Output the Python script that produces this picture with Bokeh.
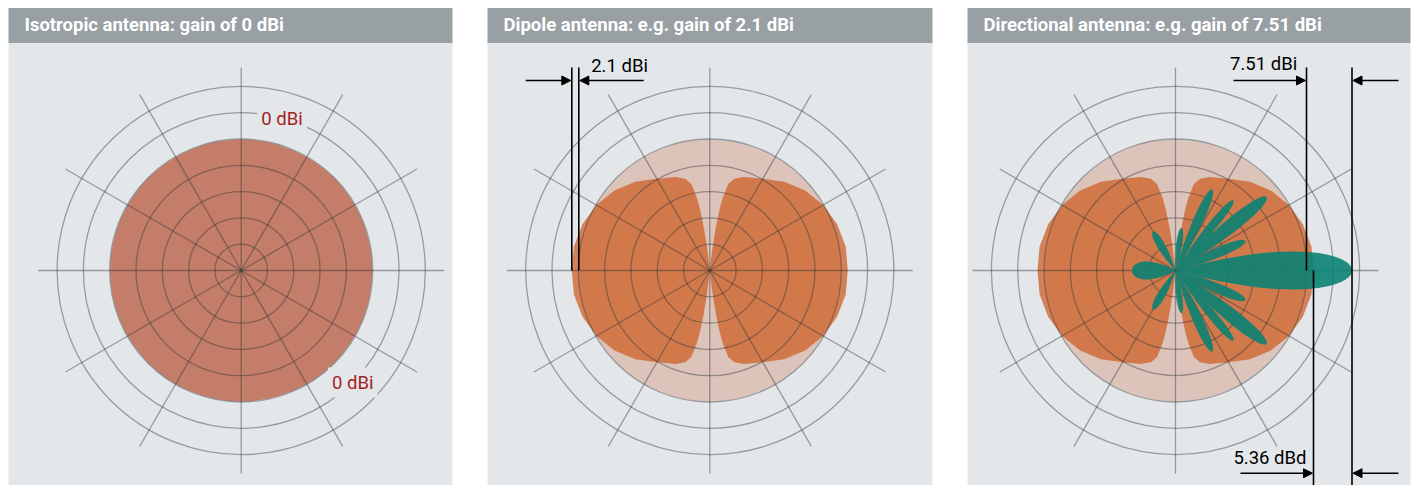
import numpy as np
from bokeh.plotting import figure
from bokeh.models import Range1d, ColumnDataSource, Arrow, NormalHead
from bokeh.core.properties import value
from bokeh.embed import file_html
from bokeh.resources import INLINE

# ---------------- data ----------------
titles = ["Isotropic antenna: gain of 0 dBi",
          "Dipole antenna: e.g. gain of 2.1 dBi",
          "Directional antenna: e.g. gain of 7.51 dBi"]
grid_rings = [1, 2, 3, 4, 5, 6, 7]
spoke_deg = [0, 30, 60, 90, 120, 150, 180, 210, 240, 270, 300, 330]

iso_radius = 131.0                      # 0 dBi pattern radius
iso_label_text = ["0 dBi", "0 dBi"]
iso_label_deg = [75, -45]

# dipole lobe: angle from lobe axis (deg) -> pattern radius
dipole_phi_deg = [0, 10, 20, 30, 40, 50, 60, 70, 75, 78, 80, 81, 82, 83, 84, 90]
dipole_r = [138, 138, 135.5, 131, 124.5, 116, 106, 99.5, 95, 88.5, 73, 61, 45, 26, 9, 0]

# directional pattern lobes (teal)
teal_main = dict(deg=0, length=176.5, half_width=19)
teal_back = dict(deg=180, length=43.5, half_width=9)
teal_side_deg = [22.9, 38.9, 50.5, 65.6, 82, 120]
teal_side_len = [76, 117, 91, 89, 43, 45]
teal_side_hw = [5.0, 7.0, 4.4, 5.0, 3.0, 4.0]

dim_labels = ["2.1 dBi", "7.51 dBi", "5.36 dBd"]

# ---------------- layout / style ----------------
W, H = 1414, 485
panel_left = [8, 487, 967]
panel_right = [452, 932, 1410]
cxs = [240.7, 709.3, 1175.0]
cy = 270.0
ring_step = 26.3
spoke_len = 203.0
hdr_top, hdr_bot = 7.5, 42.5
y_bottom = H
TXT_SHIFT = -6.5   # compensate baseline placement

BG = "#e4e7ea"
HDR = "#98a0a3"
FONT = value("Roboto")

p = figure(width=W, height=H, x_range=Range1d(0, W), y_range=Range1d(H, 0),
           x_axis_location=None, y_axis_location=None, toolbar_location=None,
           output_backend="svg", min_border=0, outline_line_color=None,
           background_fill_color="white", border_fill_color="white")
p.grid.visible = False

# panel backgrounds & headers
p.quad(left=panel_left, right=panel_right, top=[hdr_bot] * 3, bottom=[y_bottom + 10] * 3,
       fill_color=BG, line_color=None)
p.quad(left=panel_left, right=panel_right, top=[hdr_top] * 3, bottom=[hdr_bot] * 3,
       fill_color=HDR, line_color=None)
p.text(x=[l + 16 for l in panel_left], y=[30.5 + TXT_SHIFT] * 3, text=titles, text_font=FONT,
       text_font_size="18.5px", text_font_style="bold", text_color="white",
       text_baseline="alphabetic", text_align="left")


def polar(cx, r, deg):
    a = np.deg2rad(np.asarray(deg, dtype=float))
    r = np.asarray(r, dtype=float)
    return cx + r * np.cos(a), cy - r * np.sin(a)


# ---- panel 1: isotropic ----
p.circle(x=[cxs[0]], y=[cy], radius=iso_radius, fill_color="#c47d68", line_color=None)

# ---- panels 2 & 3: pale 0 dBi circle + dipole lobes ----
phi = np.array(dipole_phi_deg, dtype=float)
rr = np.array(dipole_r, dtype=float)
theta = np.concatenate([-phi[::-1], phi[1:]])
rfull = np.concatenate([rr[::-1], rr[1:]])
for cx in cxs[1:]:
    p.circle(x=[cx], y=[cy], radius=iso_radius, fill_color="#dcc4ba", line_color=None)
    xr, yr = polar(cx, rfull, theta)
    xl, yl = polar(cx, rfull, 180 - theta)
    p.patches(xs=[list(xr), list(xl)], ys=[list(yr), list(yl)],
              fill_color="#d0642d", fill_alpha=0.78, line_color=None)

# ---- grid (rings + spokes) on top ----
GRID = "#2a3338"
for cx in cxs:
    p.circle(x=[cx] * len(grid_rings), y=[cy] * len(grid_rings),
             radius=[k * ring_step for k in grid_rings], fill_color=None,
             line_color=GRID, line_alpha=0.42, line_width=1.3)
    x1, y1 = polar(cx, [spoke_len] * len(spoke_deg), spoke_deg)
    p.segment(x0=[cx] * len(spoke_deg), y0=[cy] * len(spoke_deg), x1=list(x1), y1=list(y1),
              line_color=GRID, line_alpha=0.42, line_width=1.3)

# ---- panel 3: directional pattern (teal petals) ----
def petal(cx, deg, length, hw, n=60):
    s = np.linspace(0, 2 * np.pi, n)
    x = length * (1 - np.cos(s)) / 2
    y = hw / 0.7698 * np.sin(s) * np.abs(np.sin(s / 2))
    a = np.deg2rad(deg)
    X = x * np.cos(a) - y * np.sin(a)
    Y = x * np.sin(a) + y * np.cos(a)
    return list(cx + X), list(cy - Y)


pxs, pys = [], []
for lobe in (teal_main, teal_back):
    a, b = petal(cxs[2], lobe["deg"], lobe["length"], lobe["half_width"])
    pxs.append(a); pys.append(b)
for d, L, hw in zip(teal_side_deg, teal_side_len, teal_side_hw):
    for sgn in (1, -1):
        a, b = petal(cxs[2], sgn * d, L, hw)
        pxs.append(a); pys.append(b)
p.patches(xs=pxs, ys=pys, fill_color="#0a8273", fill_alpha=0.9, line_color=None)

# ---- panel 1 labels ----
lx, ly = polar(cxs[0], [6 * ring_step] * 2, iso_label_deg)
p.text(x=list(lx), y=[v + 7 + TXT_SHIFT for v in ly], text=iso_label_text, text_font=FONT,
       text_font_size="18.5px", text_color="#a31f24", text_align="center",
       text_baseline="alphabetic", background_fill_color=BG, padding=4)

# ---- dimension lines ----
d_max = max(dipole_r)
t_max = teal_main["length"]
c2, c3 = cxs[1], cxs[2]
p.segment(x0=[c2 - d_max, c2 - iso_radius, c3 + iso_radius, c3 + t_max, c3 + d_max],
          y0=[67, 67, 67, 67, cy],
          x1=[c2 - d_max, c2 - iso_radius, c3 + iso_radius, c3 + t_max, c3 + d_max],
          y1=[cy, cy, cy, y_bottom, y_bottom],
          line_color="black", line_width=1.6)

arr = ColumnDataSource(dict(
    xs=[c2 - 7 * ring_step, c2 - 66, c3 + 58, c3 + 223, c3 + 65, c3 + 223],
    ys=[80, 80, 80, 80, 472.7, 472.7],
    xe=[c2 - d_max - 1, c2 - iso_radius + 1, c3 + iso_radius - 1, c3 + t_max + 1,
        c3 + d_max - 1, c3 + t_max + 1],
    ye=[80, 80, 80, 80, 472.7, 472.7]))
p.add_layout(Arrow(source=arr, x_start="xs", y_start="ys", x_end="xe", y_end="ye",
                   line_color="black", line_width=1.6,
                   end=NormalHead(size=9, fill_color="black", line_color="black")))

p.text(x=[c2 - 118.6], y=[71.5 + TXT_SHIFT], text=[dim_labels[0]], text_font=FONT,
       text_font_size="18.5px", text_color="black", text_align="left",
       text_baseline="alphabetic")
p.text(x=[c3 + 121.7, c3 + 131], y=[70.0 + TXT_SHIFT, 463.5 + TXT_SHIFT], text=dim_labels[1:],
       text_font=FONT, text_font_size="18.5px", text_color="black", text_align="right",
       text_baseline="alphabetic")

open("out.html", "w").write(file_html(p, INLINE))
